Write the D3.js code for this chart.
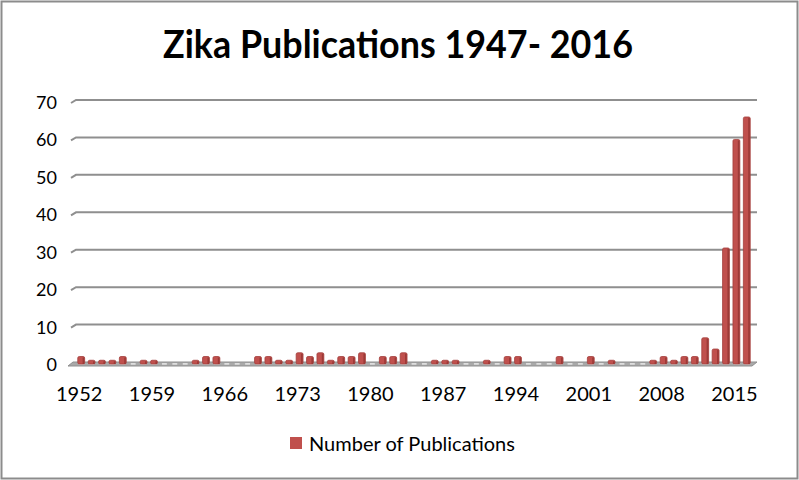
<!DOCTYPE html>
<html>
<head>
<meta charset="utf-8">
<script src="https://cdn.jsdelivr.net/npm/d3@7"></script>
<style>
  body { margin: 0; background: #fff; }
  text { font-family: Lato, "Open Sans", sans-serif; }
</style>
</head>
<body>
<script>
var years = d3.range(1952, 2017)
var publications = [2, 1, 1, 1, 2, 0, 1, 1, 0, 0,
  0, 1, 2, 2, 0, 0, 0, 2, 2, 1,
  1, 3, 2, 3, 1, 2, 2, 3, 0, 2,
  2, 3, 0, 0, 1, 1, 1, 0, 0, 1,
  0, 2, 2, 0, 0, 0, 2, 0, 0, 2,
  0, 1, 0, 0, 0, 1, 2, 1, 2, 2,
  7, 4, 31, 60, 66]
var yTicks = [0, 10, 20, 30, 40, 50, 60, 70]
var xTickYears = [1952, 1959, 1966, 1973, 1980, 1987, 1994, 2001, 2008, 2015]
var seriesName = 'Number of Publications'

var W = 799, H = 480
var dx = 5, dy = -3   // depth of the 3d back wall

var svg = d3.select('body').append('svg')
  .attr('width', W).attr('height', H)

// outer frame
svg.append('rect')
  .attr('x', 1.5).attr('y', 1.5)
  .attr('width', W - 3).attr('height', H - 3)
  .attr('fill', '#fff').attr('stroke', '#8c8c8c').attr('stroke-width', 2)

// title, squeezed a bit to get the calibri width
svg.append('text')
  .attr('x', 163).attr('y', 58)
  .attr('font-size', 39).attr('font-weight', 'bold')
  .attr('textLength', 470).attr('lengthAdjust', 'spacingAndGlyphs')
  .attr('fill', '#000')
  .text('Zika Publications 1947- 2016')

var x = d3.scaleBand().domain(years).range([76, 752]).paddingInner(0.34).paddingOuter(0.17)
var y = d3.scaleLinear().domain([0, 70]).range([365, 103])

// gridlines on back wall
var grid = svg.append('g')
yTicks.forEach(function(t){
  if(t === 0) return
  grid.append('path')
    .attr('d', 'M71,' + y(t) + 'L' + (71 + dx) + ',' + (y(t) + dy) + 'L757,' + (y(t) + dy))
    .attr('fill', 'none').attr('stroke', '#8f8f8f').attr('stroke-width', 2)
})

// floor
svg.append('path')
  .attr('d', 'M68,366L752,366L757,362L73,362Z')
  .attr('fill', '#a9a9a9').attr('stroke', '#8f8f8f').attr('stroke-width', 1)

svg.append('g').selectAll('rect')
  .data(years)
  .join('rect')
  .attr('x', function(d){ return x(d) + 1 })
  .attr('y', 363.2)
  .attr('width', x.bandwidth() - 2)
  .attr('height', 1.4)
  .attr('fill', '#ececec')

// y labels
svg.append('g').selectAll('text')
  .data(yTicks)
  .join('text')
  .attr('x', 57).attr('y', function(d){ return y(d) + 6 })
  .attr('text-anchor', 'end')
  .attr('font-size', 18)
  .attr('fill', '#000')
  .text(function(d){ return d })

// bars
var bars = svg.append('g')
years.forEach(function(yr, i){
  var v = publications[i]
  if(v === 0) return
  var bx = x(yr), bw = x.bandwidth()
  bars.append('rect')
    .attr('x', bx).attr('y', y(v) - 1)
    .attr('width', bw).attr('height', 364 - y(v) + 1)
    .attr('rx', 1.5)
    .attr('fill', '#c0504d').attr('stroke', '#a33f3c').attr('stroke-width', 0.8)
  bars.append('rect')
    .attr('x', bx + bw - 2).attr('y', y(v))
    .attr('width', 1.6).attr('height', 364 - y(v))
    .attr('fill', '#9c3a37')
})

// x labels
svg.append('g').selectAll('text')
  .data(xTickYears)
  .join('text')
  .attr('x', function(d){ return x(d) + x.bandwidth() / 2 - 2 })
  .attr('y', 401)
  .attr('text-anchor', 'middle')
  .attr('font-size', 20)
  .attr('fill', '#000')
  .text(function(d){ return d })

// legend
var lg = svg.append('g')
lg.append('rect')
  .attr('x', 290).attr('y', 437).attr('width', 12).attr('height', 12)
  .attr('fill', '#c0504d')
lg.append('text')
  .attr('x', 309).attr('y', 451)
  .attr('font-size', 20)
  .attr('fill', '#000')
  .text(seriesName)
</script>
</body>
</html>
